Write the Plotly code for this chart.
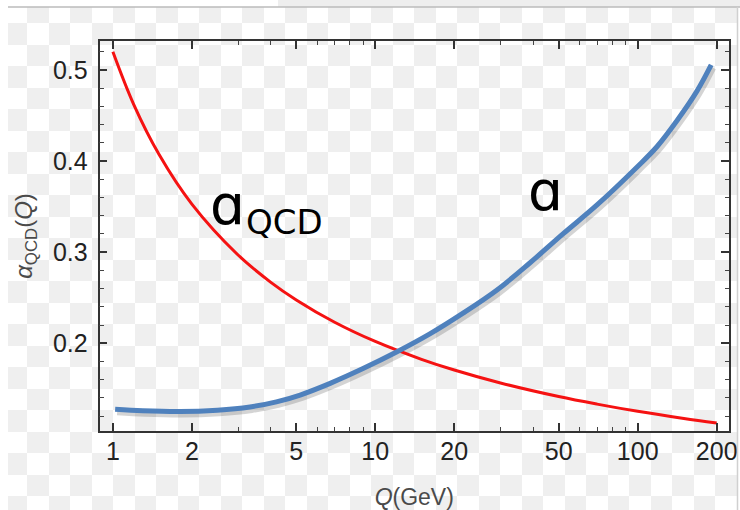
import plotly.graph_objects as go

W, H = 740, 510

# ---- data ----
Q_red = [1, 1.2, 1.5, 2, 3, 4, 5, 7, 10, 15, 20, 30, 50, 70, 100, 150, 200]
alpha_red = [0.52, 0.4623, 0.4072, 0.3528, 0.2969, 0.2669, 0.2476, 0.2231,
             0.2020, 0.1824, 0.1706, 0.1564, 0.1415, 0.1332, 0.1253, 0.1175, 0.1125]

Q_blue = [1.02, 1.3, 1.8, 2.5, 3.33, 4.2, 5.17, 6.73, 8.98, 12.1, 16.2, 21.6,
          29.1, 38.8, 51.9, 70, 99.5, 118.6, 141.3, 168.4, 190.6]
a_blue = [0.1276, 0.1259, 0.1250, 0.1265, 0.1301, 0.1357, 0.1432, 0.1560,
          0.1722, 0.1906, 0.2105, 0.2330, 0.2585, 0.2881, 0.3200, 0.3518,
          0.3935, 0.4160, 0.4445, 0.4770, 0.5055]

x_tickvals = [1, 2, 5, 10, 20, 50, 100, 200]
x_ticktext = ["1", "2", "5", "10", "20", "50", "100", "200"]
x_minorvals = [3, 4, 6, 7, 8, 9, 30, 40, 60, 70, 80, 90]
y_tickvals = [0.2, 0.3, 0.4, 0.5]
y_ticktext = ["0.2", "0.3", "0.4", "0.5"]

label_main = "ɑ"
label_sub = "QCD"
label_blue = "ɑ"

# ---- layout geometry (pixels) ----
L, R, T, B = 99.5, 729.0, 41.0, 431.0
XR = [-0.051, 2.348]
YR = [0.1037, 0.5318]

# ---- checkerboard background (decorative) ----
cell = 21.5
x0c, y0c = 5.9, 1.5
xe = [8.0]
k = 1
while x0c + cell * k < 737:
    xe.append(x0c + cell * k)
    k += 1
xe.append(737.0)
ye = [7.0]
k = 1
while y0c + cell * k < H:
    ye.append(y0c + cell * k)
    k += 1
ye.append(float(H))
zc = [[(r + c) % 2 for c in range(len(xe) - 1)] for r in range(len(ye) - 1)]

fig = go.Figure()

fig.add_trace(go.Heatmap(
    x=xe, y=ye, z=zc, xaxis="x", yaxis="y",
    colorscale=[[0, "#ffffff"], [1, "#efefef"]], showscale=False,
    hoverinfo="skip", zmin=0, zmax=1,
))

# soft shadow under the blue curve
fig.add_trace(go.Scatter(
    x=Q_blue, y=a_blue, xaxis="x2", yaxis="y2", mode="lines",
    line=dict(color="rgba(60,60,60,0.22)", width=6, shape="spline", smoothing=1),
    hoverinfo="skip", showlegend=False,
))

fig.add_trace(go.Scatter(
    x=Q_red, y=alpha_red, xaxis="x3", yaxis="y3", mode="lines",
    line=dict(color="#f51212", width=3, shape="spline", smoothing=1),
    name="α_QCD", showlegend=False,
))
fig.add_trace(go.Scatter(
    x=Q_blue, y=a_blue, xaxis="x3", yaxis="y3", mode="lines",
    line=dict(color="#4f81bd", width=5, shape="spline", smoothing=1),
    name="a", showlegend=False,
))

xdom = [L / W, R / W]
ydom = [1 - B / H, 1 - T / H]

tickfont = dict(family="Liberation Sans, Arial, sans-serif", size=25, color="#222222")
xtitlefont = dict(family="Liberation Sans, Arial, sans-serif", size=23, color="#4a4a4a")
ytitlefont = dict(family="Liberation Sans, Arial, sans-serif", size=24, color="#4a4a4a")

frame = dict(showline=True, linecolor="#333333", linewidth=1.6, mirror=False,
             showgrid=False, zeroline=False, ticks="inside", ticklen=8,
             tickwidth=1.6, tickcolor="#333333", automargin=False)
x_minor = dict(ticks="inside", ticklen=4.5, tickwidth=1.3, tickcolor="#444444",
               tickmode="array", tickvals=x_minorvals, showgrid=False)
y_minor = dict(ticks="inside", ticklen=4.5, tickwidth=1.3, tickcolor="#444444",
               dtick=0.02, tick0=0.0, showgrid=False)

fig.update_layout(
    width=W, height=H,
    margin=dict(l=0, r=0, t=0, b=0),
    paper_bgcolor="#ffffff",
    plot_bgcolor="rgba(0,0,0,0)",
    showlegend=False,
    xaxis=dict(domain=[0, 1], range=[0, W], visible=False, fixedrange=True),
    yaxis=dict(domain=[0, 1], range=[H, 0], visible=False, fixedrange=True),
    xaxis2=dict(domain=xdom, type="log",
                range=[XR[0] - 2 / 262.4, XR[1] - 2 / 262.4],
                visible=False, anchor="y2"),
    yaxis2=dict(domain=ydom, range=[YR[0] + 3 / 911, YR[1] + 3 / 911],
                visible=False, anchor="x2"),
    xaxis3=dict(
        overlaying="x2", anchor="y3", type="log", range=XR, side="bottom",
        tickmode="array", tickvals=x_tickvals, ticktext=x_ticktext,
        tickfont=tickfont, ticklabelstandoff=-3, minor=x_minor,
        title=dict(text="<i>Q</i>(GeV)", font=xtitlefont, standoff=26),
        **frame,
    ),
    yaxis3=dict(
        overlaying="y2", anchor="x3", range=YR, side="left",
        tickmode="array", tickvals=y_tickvals, ticktext=y_ticktext,
        tickfont=tickfont, ticklabelstandoff=5, minor=y_minor,
        title=dict(text="<i>α</i><sub>QCD</sub>(<i>Q</i>)", font=ytitlefont, standoff=14),
        **frame,
    ),
    xaxis4=dict(
        overlaying="x2", anchor="y3", type="log", range=XR, side="top",
        tickmode="array", tickvals=x_tickvals, showticklabels=False,
        minor=x_minor, **frame,
    ),
    yaxis4=dict(
        overlaying="y2", anchor="x3", range=YR, side="right",
        tickmode="array", tickvals=y_tickvals, showticklabels=False,
        minor=y_minor, **frame,
    ),
    shapes=[
        dict(type="rect", xref="paper", yref="paper", x0=278 / W, x1=1, y0=1 - 7 / H, y1=1,
             fillcolor="#eeeeee", line=dict(width=0), layer="above"),
        dict(type="line", xref="paper", yref="paper", x0=8 / W, x1=1, y0=1 - 7 / H, y1=1 - 7 / H,
             line=dict(color="#bbbbbb", width=1.5), layer="above"),
        dict(type="line", xref="paper", yref="paper", x0=737.5 / W, x1=737.5 / W, y0=0, y1=1 - 7 / H,
             line=dict(color="#d0d0d0", width=1.5), layer="above"),
    ],
    annotations=[
        dict(text=label_main, xref="paper", yref="paper", x=208 / W, y=1 - 205 / H,
             xanchor="left", yanchor="middle", showarrow=False,
             font=dict(family="DejaVu Sans", size=55, color="#000000")),
        dict(text=label_sub, xref="paper", yref="paper", x=244 / W, y=1 - 222 / H,
             xanchor="left", yanchor="middle", showarrow=False,
             font=dict(family="DejaVu Sans", size=34, color="#000000")),
        dict(text=label_blue, xref="paper", yref="paper", x=526 / W, y=1 - 191 / H,
             xanchor="left", yanchor="middle", showarrow=False,
             font=dict(family="DejaVu Sans", size=55, color="#000000")),
    ],
)

# invisible trace so the top/right frame axes are drawn
fig.add_trace(go.Scatter(
    x=[Q_red[0]], y=[alpha_red[0]], xaxis="x4", yaxis="y4", mode="markers",
    marker=dict(opacity=0), hoverinfo="skip", showlegend=False,
))

fig.write_html(
    "out.html",
    config={"displayModeBar": False},
    post_script="document.body.style.margin='0';document.body.style.overflow='hidden';",
)
